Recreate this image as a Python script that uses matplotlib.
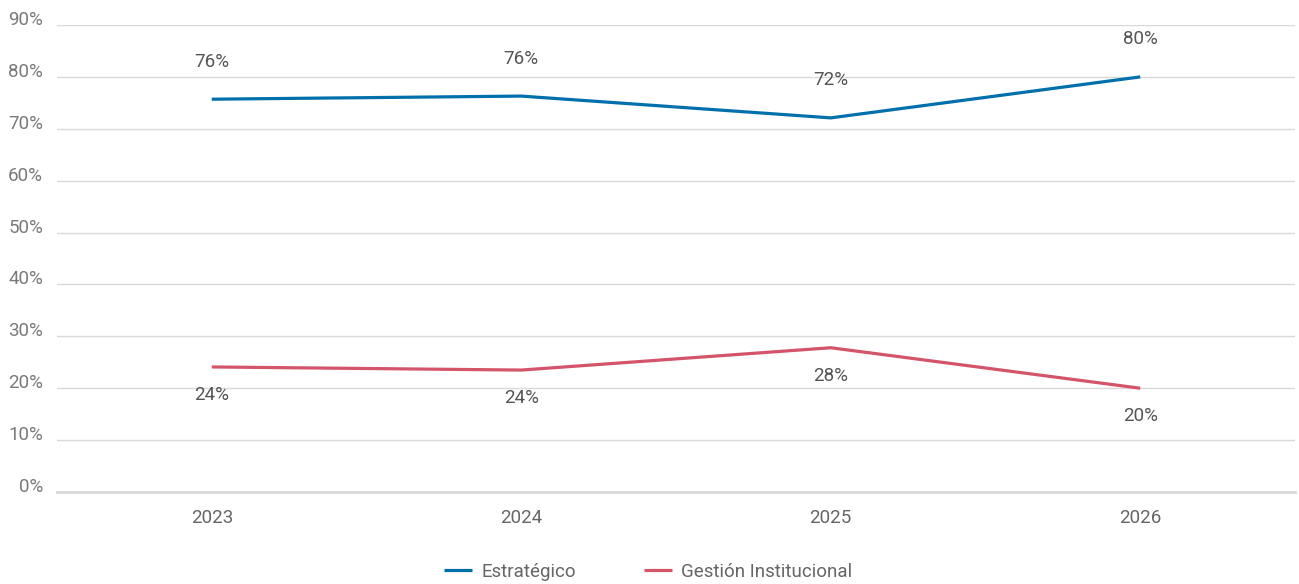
import numpy as np
import matplotlib.pyplot as plt

# datos
years = ['2023', '2024', '2025', '2026']
estrategico = [75.7, 76.3, 72.1, 80.0]
gestion = [24.1, 23.5, 27.8, 20.0]
lbl_estrategico = ['76%', '76%', '72%', '80%']
lbl_gestion = ['24%', '24%', '28%', '20%']

plt.rcParams['font.family'] = ['Roboto', 'DejaVu Sans']
gris_eje = '#7a7a7a'
gris_dato = '#555555'
azul = '#0070AD'
rojo = '#D4546A'

fig = plt.figure(figsize=(12.99, 5.84), dpi=100)
ax = fig.add_axes([57 / 1299, 1 - 492 / 584, (1295 - 57) / 1299, 467 / 584])

x = np.arange(len(years))
ax.plot(x, estrategico, color=azul, lw=2.3, label='Estratégico', solid_capstyle='butt')
ax.plot(x, gestion, color=rojo, lw=2.3, label='Gestión Institucional', solid_capstyle='butt')

for xi, v, t in zip(x, estrategico, lbl_estrategico):
    ax.annotate(t, (xi, v), xytext=(0, 27), textcoords='offset points',
                ha='center', va='center', fontsize=13.5, color=gris_dato)
for xi, v, t in zip(x, gestion, lbl_gestion):
    ax.annotate(t, (xi, v), xytext=(0, -20), textcoords='offset points',
                ha='center', va='center', fontsize=13.5, color=gris_dato)

ax.set_xlim(-0.5, 3.5)
ax.set_ylim(0, 90)
ax.set_yticks(range(0, 91, 10))
ax.set_yticklabels([f'{v}%' for v in range(0, 91, 10)])
ax.set_xticks(x)
ax.set_xticklabels(years)
ax.grid(axis='y', color='#d9d9d9', lw=1)
ax.set_axisbelow(True)
for s in ['top', 'right', 'left']:
    ax.spines[s].set_visible(False)
ax.spines['bottom'].set_color('#d9d9d9')
ax.spines['bottom'].set_linewidth(2)
ax.tick_params(axis='y', length=0, pad=10, labelsize=13.5, labelcolor=gris_eje)
ax.tick_params(axis='x', length=0, pad=12, labelsize=13.5, labelcolor='#666666')
for lab in ax.get_yticklabels():
    lab.set_verticalalignment('baseline')

fig.legend(loc='center', bbox_to_anchor=(648 / 1299, 1 - 572 / 584), ncol=2,
           frameon=False, fontsize=13.5, labelcolor='#666666', handlelength=1.5,
           columnspacing=3.6, handletextpad=0.5)

fig.savefig('out.png', dpi=100)
